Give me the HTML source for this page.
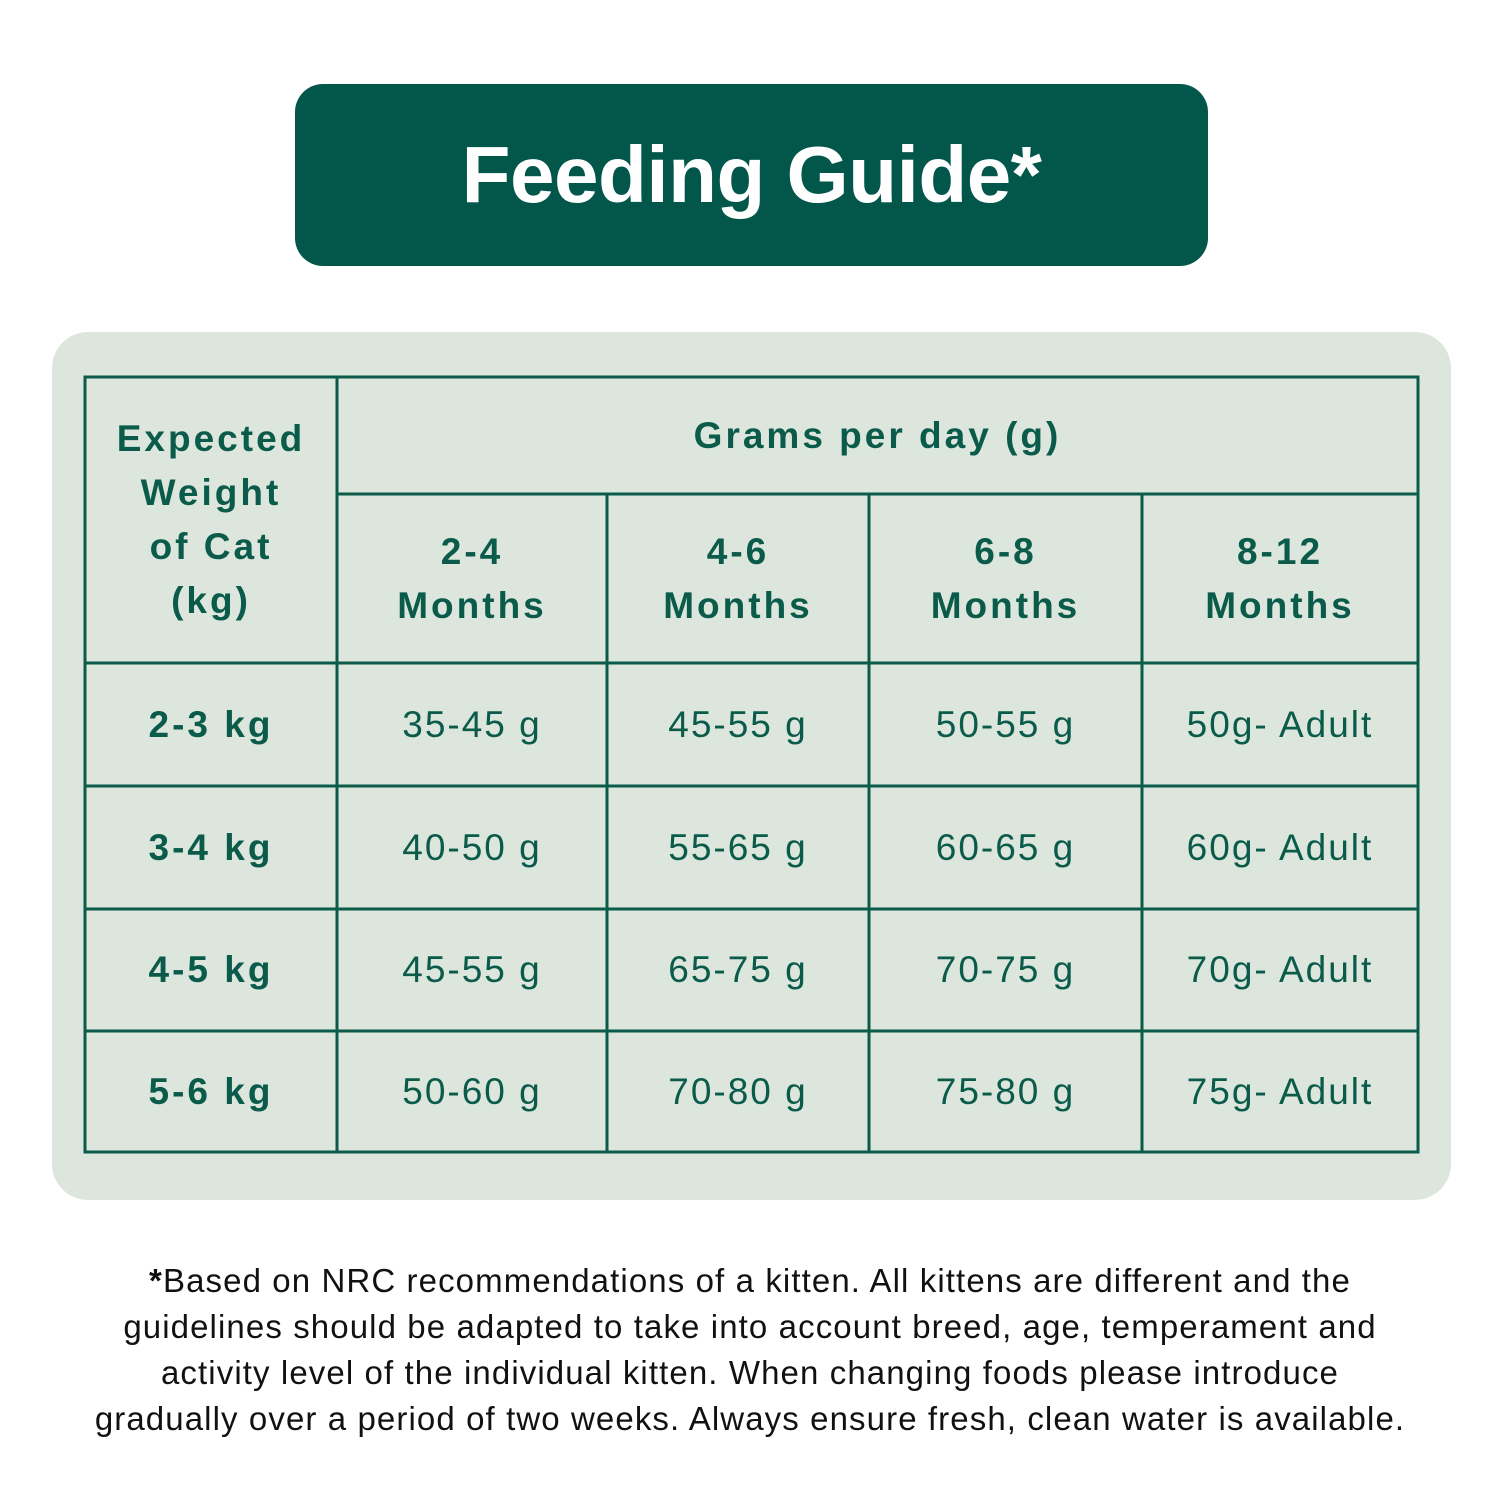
<!DOCTYPE html>
<html><head><meta charset="utf-8"><style>
body{margin:0;width:1500px;height:1500px;background:#fff;position:relative;font-family:"Liberation Sans",sans-serif;overflow:hidden}
.banner{position:absolute;left:295px;top:84px;width:913px;height:182px;background:#03564a;border-radius:28px}
.title{position:absolute;left:295px;top:84px;width:913px;height:182px;line-height:182px;text-align:center;color:#fff;font-weight:bold;font-size:80px;letter-spacing:-0.5px}
.panel{position:absolute;left:52px;top:332px;width:1399px;height:868px;background:#dde6dd;border-radius:36px}
.t{position:absolute;color:#0b5b4b;text-align:center;font-size:37px;display:flex;align-items:center;justify-content:center;line-height:54px;letter-spacing:2px}
.b{font-weight:bold;letter-spacing:3px}
.foot{position:absolute;left:0;top:1258px;width:1500px;text-align:center;font-size:33px;line-height:46px;color:#111;letter-spacing:1.1px}
</style></head><body>
<div class="banner"></div>
<div class="title">Feeding Guide*</div>
<div class="panel"></div>
<svg width="1500" height="1500" style="position:absolute;left:0;top:0">
<g stroke="#0b5b4b" stroke-width="3" fill="none">
<rect x="85" y="377" width="1333" height="775"/>
<line x1="337" y1="377" x2="337" y2="1152"/>
<line x1="337" y1="494" x2="1418" y2="494"/>
<line x1="607" y1="494" x2="607" y2="1152"/>
<line x1="869" y1="494" x2="869" y2="1152"/>
<line x1="1142" y1="494" x2="1142" y2="1152"/>
<line x1="85" y1="663" x2="1418" y2="663"/>
<line x1="85" y1="786" x2="1418" y2="786"/>
<line x1="85" y1="909" x2="1418" y2="909"/>
<line x1="85" y1="1031" x2="1418" y2="1031"/>
</g></svg>
<div class="t b" style="left:85px;top:377px;width:252px;height:286px">Expected<br>Weight<br>of Cat<br>(kg)</div>
<div class="t b" style="left:337px;top:377px;width:1081px;height:117px">Grams per day (g)</div>
<div class="t b" style="left:337px;top:494px;width:270px;height:169px">2-4<br>Months</div>
<div class="t b" style="left:607px;top:494px;width:262px;height:169px">4-6<br>Months</div>
<div class="t b" style="left:869px;top:494px;width:273px;height:169px">6-8<br>Months</div>
<div class="t b" style="left:1142px;top:494px;width:276px;height:169px">8-12<br>Months</div>

<div class="t b" style="left:85px;top:663px;width:252px;height:123px">2-3 kg</div>
<div class="t" style="left:337px;top:663px;width:270px;height:123px">35-45 g</div>
<div class="t" style="left:607px;top:663px;width:262px;height:123px">45-55 g</div>
<div class="t" style="left:869px;top:663px;width:273px;height:123px">50-55 g</div>
<div class="t" style="left:1142px;top:663px;width:276px;height:123px">50g- Adult</div>

<div class="t b" style="left:85px;top:786px;width:252px;height:123px">3-4 kg</div>
<div class="t" style="left:337px;top:786px;width:270px;height:123px">40-50 g</div>
<div class="t" style="left:607px;top:786px;width:262px;height:123px">55-65 g</div>
<div class="t" style="left:869px;top:786px;width:273px;height:123px">60-65 g</div>
<div class="t" style="left:1142px;top:786px;width:276px;height:123px">60g- Adult</div>

<div class="t b" style="left:85px;top:909px;width:252px;height:122px">4-5 kg</div>
<div class="t" style="left:337px;top:909px;width:270px;height:122px">45-55 g</div>
<div class="t" style="left:607px;top:909px;width:262px;height:122px">65-75 g</div>
<div class="t" style="left:869px;top:909px;width:273px;height:122px">70-75 g</div>
<div class="t" style="left:1142px;top:909px;width:276px;height:122px">70g- Adult</div>

<div class="t b" style="left:85px;top:1031px;width:252px;height:121px">5-6 kg</div>
<div class="t" style="left:337px;top:1031px;width:270px;height:121px">50-60 g</div>
<div class="t" style="left:607px;top:1031px;width:262px;height:121px">70-80 g</div>
<div class="t" style="left:869px;top:1031px;width:273px;height:121px">75-80 g</div>
<div class="t" style="left:1142px;top:1031px;width:276px;height:121px">75g- Adult</div>

<div class="foot"><b>*</b>Based on NRC recommendations of a kitten. All kittens are different and the<br>guidelines should be adapted to take into account breed, age, temperament and<br>activity level of the individual kitten. When changing foods please introduce<br>gradually over a period of two weeks. Always ensure fresh, clean water is available.</div>
</body></html>
